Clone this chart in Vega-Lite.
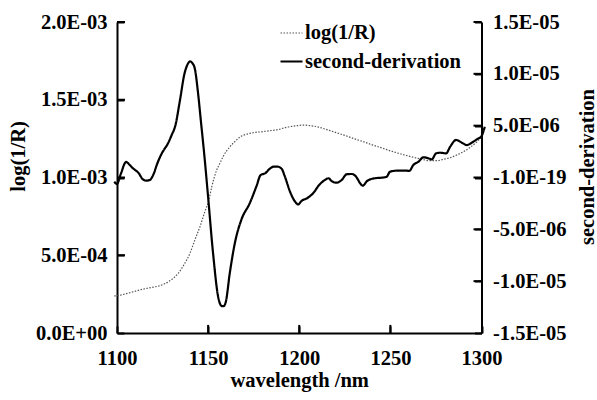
{
  "$schema": "https://vega.github.io/schema/vega-lite/v6.json",
  "width": 364.5,
  "height": 311,
  "autosize": {"type": "none"},
  "padding": {"left": 117, "top": 22, "right": 115.5, "bottom": 67},
  "background": "white",
  "config": {
    "view": {"stroke": null},
    "font": "Liberation Serif",
    "axis": {
      "labelFont": "Liberation Serif", "labelFontWeight": "bold", "labelFontSize": 20.5, "labelColor": "black",
      "titleFont": "Liberation Serif", "titleFontWeight": "bold", "titleFontSize": 20.5, "titleColor": "black",
      "domainColor": "black", "domainWidth": 2,
      "grid": false, "labelFlush": false, "labelOverlap": false, "labelBound": false
    },
    "legend": {
      "labelFont": "Liberation Serif", "labelFontWeight": "bold", "labelFontSize": 20.5, "labelColor": "black",
      "labelLimit": 400
    }
  },
  "datasets": {
    "xticks": [{"wavelength": 1150}, {"wavelength": 1200}, {"wavelength": 1250}],
    "leftticks": [{"value": 0.0005}, {"value": 0.001}, {"value": 0.0015}, {"value": 0.002}],
    "rightticks": [{"value": -1e-5}, {"value": -5e-6}, {"value": 0}, {"value": 5e-6}, {"value": 1e-5}, {"value": 1.5e-5}],
    "logR": [
      {"wavelength": 1098.5, "value": 2.38e-4},
      {"wavelength": 1100, "value": 2.40e-4},
      {"wavelength": 1107, "value": 2.59e-4},
      {"wavelength": 1114, "value": 2.81e-4},
      {"wavelength": 1120, "value": 2.95e-4},
      {"wavelength": 1123.5, "value": 3.04e-4},
      {"wavelength": 1129, "value": 3.36e-4},
      {"wavelength": 1133.6, "value": 3.84e-4},
      {"wavelength": 1137.2, "value": 4.48e-4},
      {"wavelength": 1140, "value": 5.12e-4},
      {"wavelength": 1142.7, "value": 5.98e-4},
      {"wavelength": 1145.4, "value": 6.80e-4},
      {"wavelength": 1148.2, "value": 7.80e-4},
      {"wavelength": 1150.5, "value": 8.60e-4},
      {"wavelength": 1152, "value": 9.40e-4},
      {"wavelength": 1154.6, "value": 1.045e-3},
      {"wavelength": 1156.4, "value": 1.090e-3},
      {"wavelength": 1158.2, "value": 1.134e-3},
      {"wavelength": 1162, "value": 1.198e-3},
      {"wavelength": 1165, "value": 1.235e-3},
      {"wavelength": 1167.4, "value": 1.260e-3},
      {"wavelength": 1171, "value": 1.278e-3},
      {"wavelength": 1174.7, "value": 1.288e-3},
      {"wavelength": 1180, "value": 1.295e-3},
      {"wavelength": 1184, "value": 1.301e-3},
      {"wavelength": 1189, "value": 1.310e-3},
      {"wavelength": 1193, "value": 1.323e-3},
      {"wavelength": 1198, "value": 1.332e-3},
      {"wavelength": 1202.5, "value": 1.337e-3},
      {"wavelength": 1206, "value": 1.333e-3},
      {"wavelength": 1209.7, "value": 1.327e-3},
      {"wavelength": 1214, "value": 1.312e-3},
      {"wavelength": 1217, "value": 1.301e-3},
      {"wavelength": 1222, "value": 1.282e-3},
      {"wavelength": 1226, "value": 1.267e-3},
      {"wavelength": 1230, "value": 1.250e-3},
      {"wavelength": 1235.2, "value": 1.230e-3},
      {"wavelength": 1240, "value": 1.210e-3},
      {"wavelength": 1244.3, "value": 1.194e-3},
      {"wavelength": 1249, "value": 1.175e-3},
      {"wavelength": 1253.5, "value": 1.159e-3},
      {"wavelength": 1258, "value": 1.144e-3},
      {"wavelength": 1262.6, "value": 1.130e-3},
      {"wavelength": 1267, "value": 1.118e-3},
      {"wavelength": 1271.8, "value": 1.108e-3},
      {"wavelength": 1275.5, "value": 1.108e-3},
      {"wavelength": 1279.1, "value": 1.117e-3},
      {"wavelength": 1283, "value": 1.128e-3},
      {"wavelength": 1286.5, "value": 1.145e-3},
      {"wavelength": 1290, "value": 1.165e-3},
      {"wavelength": 1293.8, "value": 1.194e-3},
      {"wavelength": 1297, "value": 1.225e-3},
      {"wavelength": 1300.2, "value": 1.262e-3}
    ],
    "d2": [
      {"wavelength": 1098.5, "value": -0.4e-6},
      {"wavelength": 1100, "value": -0.63e-6},
      {"wavelength": 1102, "value": 0.3e-6},
      {"wavelength": 1105, "value": 1.5e-6},
      {"wavelength": 1107, "value": 1.2e-6},
      {"wavelength": 1109, "value": 0.85e-6},
      {"wavelength": 1112, "value": 0.4e-6},
      {"wavelength": 1114, "value": -0.15e-6},
      {"wavelength": 1116, "value": -0.3e-6},
      {"wavelength": 1118, "value": -0.24e-6},
      {"wavelength": 1120, "value": 0.3e-6},
      {"wavelength": 1122, "value": 1.3e-6},
      {"wavelength": 1124.5, "value": 2.3e-6},
      {"wavelength": 1128, "value": 3.3e-6},
      {"wavelength": 1130, "value": 4.1e-6},
      {"wavelength": 1132, "value": 5.0e-6},
      {"wavelength": 1134.5, "value": 7.4e-6},
      {"wavelength": 1137, "value": 10.0e-6},
      {"wavelength": 1139, "value": 11.0e-6},
      {"wavelength": 1140, "value": 11.2e-6},
      {"wavelength": 1141.5, "value": 11.0e-6},
      {"wavelength": 1142.7, "value": 10.5e-6},
      {"wavelength": 1144.5, "value": 8.1e-6},
      {"wavelength": 1146, "value": 5.5e-6},
      {"wavelength": 1148, "value": 2.0e-6},
      {"wavelength": 1150, "value": -1.9e-6},
      {"wavelength": 1152.7, "value": -7.3e-6},
      {"wavelength": 1155.5, "value": -11.5e-6},
      {"wavelength": 1157.5, "value": -12.4e-6},
      {"wavelength": 1158.5, "value": -12.4e-6},
      {"wavelength": 1159.7, "value": -12.0e-6},
      {"wavelength": 1161.9, "value": -9.2e-6},
      {"wavelength": 1164.7, "value": -6.3e-6},
      {"wavelength": 1168.4, "value": -4.0e-6},
      {"wavelength": 1172.8, "value": -2.5e-6},
      {"wavelength": 1176.6, "value": -0.8e-6},
      {"wavelength": 1178.8, "value": 0.24e-6},
      {"wavelength": 1181.2, "value": 0.4e-6},
      {"wavelength": 1183.9, "value": 0.85e-6},
      {"wavelength": 1186, "value": 1.05e-6},
      {"wavelength": 1188, "value": 1.05e-6},
      {"wavelength": 1190.3, "value": 0.85e-6},
      {"wavelength": 1192.1, "value": 0.1e-6},
      {"wavelength": 1194.9, "value": -1.35e-6},
      {"wavelength": 1197.6, "value": -2.3e-6},
      {"wavelength": 1199.4, "value": -2.6e-6},
      {"wavelength": 1201.3, "value": -2.25e-6},
      {"wavelength": 1204.3, "value": -2.0e-6},
      {"wavelength": 1207.7, "value": -1.5e-6},
      {"wavelength": 1211, "value": -0.7e-6},
      {"wavelength": 1214.1, "value": -0.24e-6},
      {"wavelength": 1216, "value": -0.07e-6},
      {"wavelength": 1217.8, "value": -0.35e-6},
      {"wavelength": 1220.5, "value": -0.5e-6},
      {"wavelength": 1223.3, "value": -0.24e-6},
      {"wavelength": 1226, "value": 0.31e-6},
      {"wavelength": 1228.8, "value": 0.34e-6},
      {"wavelength": 1231.2, "value": 0.08e-6},
      {"wavelength": 1233.4, "value": -0.56e-6},
      {"wavelength": 1234.8, "value": -0.79e-6},
      {"wavelength": 1237.4, "value": -0.31e-6},
      {"wavelength": 1241.6, "value": -0.07e-6},
      {"wavelength": 1246.2, "value": 0.0},
      {"wavelength": 1248, "value": 0.08e-6},
      {"wavelength": 1249.8, "value": 0.56e-6},
      {"wavelength": 1253.5, "value": 0.66e-6},
      {"wavelength": 1259, "value": 0.66e-6},
      {"wavelength": 1260.4, "value": 0.63e-6},
      {"wavelength": 1262.6, "value": 1.21e-6},
      {"wavelength": 1265.4, "value": 1.52e-6},
      {"wavelength": 1268.1, "value": 1.95e-6},
      {"wavelength": 1270.9, "value": 1.85e-6},
      {"wavelength": 1272.7, "value": 1.75e-6},
      {"wavelength": 1275.1, "value": 2.33e-6},
      {"wavelength": 1277.3, "value": 2.39e-6},
      {"wavelength": 1280.6, "value": 2.33e-6},
      {"wavelength": 1282.8, "value": 2.97e-6},
      {"wavelength": 1286.1, "value": 3.62e-6},
      {"wavelength": 1289.2, "value": 3.36e-6},
      {"wavelength": 1292, "value": 3.13e-6},
      {"wavelength": 1294.7, "value": 3.36e-6},
      {"wavelength": 1297.5, "value": 3.69e-6},
      {"wavelength": 1300, "value": 4.0e-6},
      {"wavelength": 1301.8, "value": 4.9e-6}
    ]
  },
  "layer": [
    {
      "data": {"name": "logR"},
      "mark": {"type": "line", "interpolate": "monotone"},
      "encoding": {
        "x": {"field": "wavelength", "type": "quantitative",
              "scale": {"domain": [1100, 1300], "nice": false, "zero": false},
              "axis": {"title": "wavelength /nm", "values": [1100, 1150, 1200, 1250, 1300], "format": "d",
                       "ticks": true, "tickSize": -7, "tickWidth": 2, "tickColor": "black", "labelPadding": 22,
                       "titleY": 53, "titleBaseline": "alphabetic"}},
        "y": {"field": "value", "type": "quantitative",
              "scale": {"domain": [0, 0.002], "nice": false},
              "axis": {"orient": "left", "title": "log(1/R)", "values": [0, 0.0005, 0.001, 0.0015, 0.002],
                       "ticks": true, "tickSize": -7, "tickWidth": 2, "tickColor": "black", "labelPadding": 17,
                       "labelExpr": "replace(replace(format(datum.value,'.1e'),'e-','E-0'),'e+','E+0')",
                       "titleAngle": -90, "titleX": -93, "titleY": 134, "titleAlign": "center", "titleBaseline": "alphabetic"}},
        "color": {"datum": "log(1/R)", "type": "nominal",
                  "scale": {"domain": ["log(1/R)", "second-derivation"], "range": ["#555555", "#000000"]},
                  "legend": {"title": null, "orient": "none", "legendX": 162, "legendY": -1, "symbolType": "stroke",
                             "symbolSize": 484, "padding": 0, "rowPadding": 5, "labelOffset": 1}},
        "strokeDash": {"datum": "log(1/R)", "type": "nominal",
                       "scale": {"domain": ["log(1/R)", "second-derivation"], "range": [[1.5, 1.5], [1, 0]]},
                       "legend": {"title": null, "orient": "none", "legendX": 162, "legendY": -1, "symbolType": "stroke",
                                  "symbolSize": 484, "padding": 0, "rowPadding": 5, "labelOffset": 1}},
        "strokeWidth": {"datum": "log(1/R)", "type": "ordinal",
                        "scale": {"domain": ["log(1/R)", "second-derivation"], "range": [1.2, 2.2]},
                        "legend": {"title": null, "orient": "none", "legendX": 162, "legendY": -1, "symbolType": "stroke",
                                   "symbolSize": 484, "padding": 0, "rowPadding": 5, "labelOffset": 1}}
      }
    },
    {
      "data": {"name": "d2"},
      "mark": {"type": "line", "interpolate": "monotone"},
      "encoding": {
        "x": {"field": "wavelength", "type": "quantitative"},
        "y": {"field": "value", "type": "quantitative",
              "scale": {"domain": [-1.5e-5, 1.5e-5], "nice": false, "zero": false},
              "axis": {"orient": "right", "title": "second-derivation",
                       "values": [-1.5e-5, -1e-5, -5e-6, 0, 5e-6, 1e-5, 1.5e-5],
                       "ticks": true, "tickSize": -7, "tickWidth": 2, "tickColor": "black", "labelPadding": 18,
                       "labelExpr": "datum.value == 0 ? '-1.0E-19' : (datum.value < 0 ? '-' : '') + replace(replace(format(abs(datum.value),'.1e'),'e-','E-0'),'e+','E+0')",
                       "titleAngle": -90, "titleX": 111.5, "titleY": 144.5, "titleAlign": "center", "titleBaseline": "alphabetic"}},
        "color": {"datum": "second-derivation", "type": "nominal"},
        "strokeDash": {"datum": "second-derivation", "type": "nominal"},
        "strokeWidth": {"datum": "second-derivation", "type": "ordinal"}
      }
    },
    {
      "data": {"name": "xticks"},
      "mark": {"type": "rule", "color": "black", "strokeWidth": 2},
      "encoding": {
        "x": {"field": "wavelength", "type": "quantitative"},
        "y": {"datum": 0, "type": "quantitative", "scale": {"domain": [0, 0.002], "nice": false}, "axis": null},
        "y2": {"datum": 0.000052}
      }
    },
    {
      "data": {"name": "leftticks"},
      "mark": {"type": "rule", "color": "black", "strokeWidth": 2},
      "encoding": {
        "x": {"datum": 1100, "type": "quantitative"},
        "x2": {"datum": 1104.4},
        "y": {"field": "value", "type": "quantitative", "scale": {"domain": [0, 0.002], "nice": false}, "axis": null}
      }
    },
    {
      "data": {"name": "rightticks"},
      "mark": {"type": "rule", "color": "black", "strokeWidth": 2},
      "encoding": {
        "x": {"datum": 1295.6, "type": "quantitative"},
        "x2": {"datum": 1300},
        "y": {"field": "value", "type": "quantitative", "scale": {"domain": [-1.5e-5, 1.5e-5], "nice": false, "zero": false}, "axis": null}
      }
    }
  ],
  "resolve": {"scale": {"y": "independent"}, "axis": {"y": "independent"}}
}
